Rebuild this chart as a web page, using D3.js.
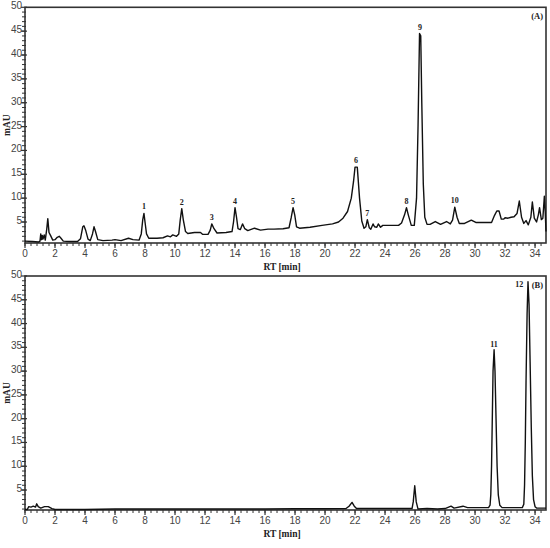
<!DOCTYPE html>
<html>
<head>
<meta charset="utf-8">
<script src="https://cdn.jsdelivr.net/npm/d3@7"></script>
<style>
  body { margin: 0; background: #fff; }
  svg { display: block; }
</style>
</head>
<body>
<div class="chromHolder"></div>
<script>
// trace (A): retention time [min] and absorbance [mAU]
const rtA = [0.0, 0.5, 0.9, 1.0, 1.05, 1.1, 1.15, 1.2, 1.28, 1.35, 1.45, 1.52, 1.6, 1.7, 1.85, 2.0, 2.15, 2.28, 2.4, 2.55,
  3.0, 3.5, 3.7, 3.85, 3.93, 4.05, 4.2, 4.35, 4.5, 4.6, 4.7, 4.85, 5.2, 5.8, 6.0, 6.4, 6.9, 7.2, 7.6, 7.75,
  7.85, 7.93, 8.0, 8.1, 8.25, 8.8, 9.2, 9.5, 9.7, 9.85, 10.1, 10.25, 10.35, 10.45, 10.55, 10.7, 10.85, 11.3, 11.7, 11.85,
  12.2, 12.35, 12.45, 12.6, 12.8, 13.4, 13.8, 13.9, 14.0, 14.1, 14.2, 14.35, 14.5, 14.65, 14.85, 15.3, 15.7, 16.2, 16.6, 17.2,
  17.6, 17.75, 17.87, 17.98, 18.1, 18.3, 19.0, 19.8, 20.5, 20.9, 21.2, 21.5, 21.75, 21.9, 22.0, 22.15, 22.3, 22.45, 22.6, 22.72,
  22.82, 22.95, 23.05, 23.2, 23.3, 23.45, 23.55, 23.7, 23.85, 24.5, 24.9, 25.1, 25.3, 25.43, 25.55, 25.75, 25.95, 26.1, 26.2, 26.3,
  26.38, 26.45, 26.55, 26.65, 26.8, 27.0, 27.35, 27.7, 28.1, 28.35, 28.5, 28.65, 28.8, 28.95, 29.3, 29.75, 30.05, 31.1, 31.3, 31.45,
  31.6, 31.75, 31.9, 32.0, 32.2, 32.4, 32.6, 32.8, 32.95, 33.1, 33.25, 33.4, 33.55, 33.72, 33.82, 33.95, 34.1, 34.22, 34.3, 34.42,
  34.52, 34.62, 34.68, 34.73];
const mauA = [1.0, 0.9, 0.8, 1.0, 2.5, 1.3, 2.2, 1.4, 2.3, 1.2, 3.5, 5.7, 2.8, 2.2, 1.2, 1.3, 1.8, 2.0, 1.6, 1.0,
  0.9, 0.9, 1.5, 4.0, 4.2, 3.2, 1.4, 1.1, 2.5, 4.0, 3.0, 1.3, 1.1, 1.2, 1.3, 1.1, 1.6, 1.3, 1.2, 2.5,
  5.5, 6.8, 5.0, 2.5, 1.6, 1.6, 1.7, 2.1, 1.9, 2.3, 2.0, 2.5, 5.5, 7.8, 5.5, 3.0, 2.6, 2.8, 2.8, 2.4,
  2.4, 3.3, 4.6, 3.6, 2.7, 2.8, 3.0, 5.0, 8.0, 6.0, 3.6, 3.4, 4.6, 3.6, 3.2, 3.7, 3.3, 3.5, 3.5, 3.6,
  3.8, 6.0, 8.0, 6.5, 4.0, 3.7, 3.9, 4.3, 4.6, 5.0, 5.8, 7.2, 10.0, 13.5, 16.5, 16.5, 10.0, 5.2, 3.7, 4.0,
  5.5, 3.8, 3.5, 4.6, 4.0, 3.9, 4.6, 3.9, 4.3, 4.3, 4.3, 4.8, 6.5, 8.0, 6.5, 4.3, 4.3, 10.0, 25.0, 44.5,
  44.0, 30.0, 13.0, 6.0, 4.5, 4.5, 5.1, 4.5, 5.1, 4.6, 5.4, 8.1, 6.0, 4.7, 4.7, 5.4, 4.9, 4.9, 6.4, 7.3,
  7.3, 5.6, 5.6, 5.9, 5.8, 6.0, 6.1, 6.8, 9.4, 6.0, 4.7, 5.3, 4.4, 6.0, 9.2, 5.8, 5.0, 6.5, 8.0, 5.5,
  5.8, 10.4, 7.0, 3.0];

// trace (B)
const rtB = [0.0, 0.15, 0.25, 0.4, 0.55, 0.7, 0.78, 0.88, 1.05, 1.3, 1.55, 1.8, 2.0, 4.0, 6.0, 8.0, 10.0, 12.0, 14.0, 16.0,
  18.0, 20.0, 21.4, 21.6, 21.8, 21.95, 22.1, 24.0, 25.8, 25.88, 25.98, 26.08, 26.2, 26.8, 27.5, 28.0, 28.4, 28.6, 29.2, 29.5,
  30.9, 31.0, 31.05, 31.1, 31.15, 31.2, 31.27, 31.33, 31.4, 31.47, 31.55, 31.65, 31.8, 33.15, 33.25, 33.3, 33.35, 33.4, 33.47, 33.53,
  33.6, 33.67, 33.75, 33.82, 33.9, 34.0, 34.1, 34.73];
const mauB = [0.9, 0.9, 1.5, 1.4, 1.6, 1.4, 2.1, 1.5, 1.2, 1.5, 1.5, 1.1, 0.9, 0.9, 1.0, 1.0, 1.0, 1.0, 1.0, 1.0,
  1.05, 1.05, 1.1, 1.6, 2.4, 1.6, 1.1, 1.1, 1.1, 2.5, 5.9, 2.5, 1.0, 1.1, 1.0, 1.1, 1.6, 1.2, 1.6, 1.3,
  1.3, 1.8, 4.0, 10.0, 20.0, 30.0, 34.5, 30.0, 20.0, 10.0, 4.0, 1.8, 1.3, 1.3, 2.0, 6.0, 15.0, 28.0, 42.0, 48.8,
  44.0, 32.0, 18.0, 8.0, 3.0, 1.5, 1.2, 1.2];

// numbered peaks (label anchor: rt, mAU)
const peakNamesA = ["1", "2", "3", "4", "5", "6", "7", "8", "9", "10"];
const peakRtA = [7.93, 10.45, 12.45, 14.0, 17.87, 22.07, 22.82, 25.43, 26.33, 28.65];
const peakMauA = [6.8, 7.8, 4.6, 8.0, 8.0, 16.5, 5.5, 8.0, 44.5, 8.1];
const peakNamesB = ["11", "12"];
const peakRtB = [31.27, 32.95];
const peakMauB = [34.3, 46.9];

const xTicks = d3.range(0, 35, 2);
const yTicks = d3.range(5, 51, 5);

const W = 550, H = 548;
const svg = d3.select(".chromHolder").append("svg")
  .attr("width", W)
  .attr("height", H);

const x = d3.scaleLinear().domain([0, 34.73]).range([25, 546]);

const panel = (rt, mau, names, pRt, pMau, yTop, yBottom, yMin, tag) => {
  const y = d3.scaleLinear().domain([yMin, 50]).range([yBottom, yTop]);
  const g = svg.append("g");

  // frame
  g.append("rect")
    .attr("x", x.range()[0])
    .attr("y", yTop)
    .attr("width", x.range()[1] - x.range()[0])
    .attr("height", yBottom - yTop)
    .attr("fill", "none")
    .attr("stroke", "#333")
    .attr("stroke-width", 1.6);

  // x axis ticks
  const xMinor = d3.range(0, 34.8, 0.4);
  g.selectAll(".xminor").data(xMinor).enter().append("line")
    .attr("x1", d => x(d)).attr("x2", d => x(d))
    .attr("y1", yBottom).attr("y2", yBottom + 3)
    .attr("stroke", "#333").attr("stroke-width", 1);
  g.selectAll(".xmajor").data(xTicks).enter().append("line")
    .attr("x1", d => x(d)).attr("x2", d => x(d))
    .attr("y1", yBottom).attr("y2", yBottom + 5)
    .attr("stroke", "#333").attr("stroke-width", 1.2);
  g.selectAll(".xlab").data(xTicks).enter().append("text")
    .attr("x", d => x(d))
    .attr("y", yBottom + 14)
    .attr("text-anchor", "middle")
    .attr("font-family", "Liberation Sans, Arial, sans-serif")
    .attr("font-size", 10)
    .attr("fill", "#444")
    .text(d => d);

  // y axis ticks
  const yMinor = d3.range(1, 50, 1);
  g.selectAll(".yminor").data(yMinor).enter().append("line")
    .attr("x1", x.range()[0] - 3).attr("x2", x.range()[0] + 1)
    .attr("y1", d => y(d)).attr("y2", d => y(d))
    .attr("stroke", "#333").attr("stroke-width", 1);
  g.selectAll(".ymajor").data(yTicks).enter().append("line")
    .attr("x1", x.range()[0] - 4).attr("x2", x.range()[0] + 2)
    .attr("y1", d => y(d)).attr("y2", d => y(d))
    .attr("stroke", "#333").attr("stroke-width", 1.2);
  g.selectAll(".ylab").data(yTicks).enter().append("text")
    .attr("x", x.range()[0] - 3)
    .attr("y", d => y(d) + 2)
    .attr("text-anchor", "end")
    .attr("font-family", "Liberation Sans, Arial, sans-serif")
    .attr("font-size", 10)
    .attr("fill", "#444")
    .text(d => d);

  // axis titles
  g.append("text")
    .attr("transform", `translate(9.5,${(yTop + yBottom) / 2}) rotate(-90)`)
    .attr("text-anchor", "middle")
    .attr("font-family", "Liberation Serif, Times New Roman, serif")
    .attr("font-weight", "bold")
    .attr("font-size", 9.5)
    .attr("fill", "#222")
    .text("mAU");
  g.append("text")
    .attr("x", 282)
    .attr("y", yBottom + 27)
    .attr("text-anchor", "middle")
    .attr("font-family", "Liberation Serif, Times New Roman, serif")
    .attr("font-weight", "bold")
    .attr("font-size", 9.5)
    .attr("fill", "#222")
    .text("RT [min]");

  // trace
  const line = d3.line()
    .x(d => x(d[0]))
    .y(d => y(d[1]));
  g.append("path")
    .datum(d3.zip(rt, mau))
    .attr("d", line)
    .attr("fill", "none")
    .attr("stroke", "#111")
    .attr("stroke-width", 1.4)
    .attr("stroke-linejoin", "round");

  // peak numbers
  g.selectAll(".peak").data(d3.zip(names, pRt, pMau)).enter().append("text")
    .attr("x", d => x(d[1]))
    .attr("y", d => y(d[2]) - 4)
    .attr("text-anchor", "middle")
    .attr("font-family", "Liberation Serif, Times New Roman, serif")
    .attr("font-weight", "bold")
    .attr("font-size", 8)
    .attr("fill", "#222")
    .text(d => d[0]);

  // panel tag
  g.append("text")
    .attr("x", 543)
    .attr("y", yTop + 12)
    .attr("text-anchor", "end")
    .attr("font-family", "Liberation Serif, Times New Roman, serif")
    .attr("font-weight", "bold")
    .attr("font-size", 8.5)
    .attr("fill", "#222")
    .text(tag);
};

panel(rtA, mauA, peakNamesA, peakRtA, peakMauA, 7.3, 243, 0.6, "(A)");
panel(rtB, mauB, peakNamesB, peakRtB, peakMauB, 276, 510, 0.8, "(B)");
</script>
</body>
</html>
